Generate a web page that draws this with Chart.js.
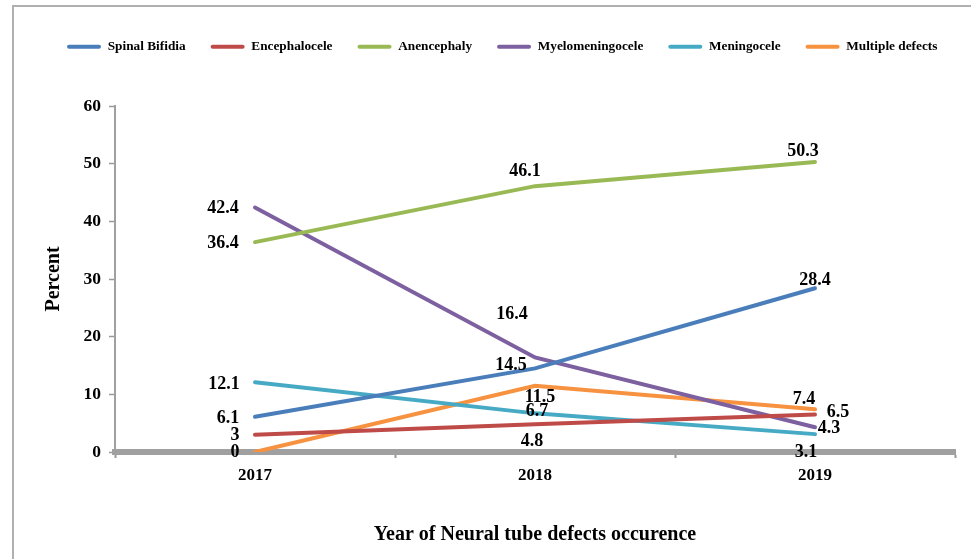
<!DOCTYPE html>
<html>
<head>
<meta charset="utf-8">
<script src="https://cdn.jsdelivr.net/npm/chart.js@4.4.1/dist/chart.umd.min.js"></script>
<style>
    html, body { margin: 0; padding: 0; background: #fff; }
    #wrap { position: relative; width: 971px; height: 559px; overflow: hidden; }
    #frame {
        position: absolute; left: 12px; top: 5px; right: -4px; bottom: -4px;
        border-top: 2px solid #b0b0b0; border-left: 2px solid #b0b0b0;
        pointer-events: none;
    }
    canvas { position: absolute; left: 0; top: 0; }
</style>
</head>
<body>
<div id="wrap">
    <canvas id="ntd-chart" width="971" height="559"></canvas>
    <div id="frame"></div>
</div>
<script>
"use strict";

const years = ["2017", "2018", "2019"];
const yTicks = [0, 10, 20, 30, 40, 50, 60];

const spinalBifidia = [6.1, 14.5, 28.4];
const encephalocele = [3, 4.8, 6.5];
const anencephaly = [36.4, 46.1, 50.3];
const myelomeningocele = [42.4, 16.4, 4.3];
const meningocele = [12.1, 6.7, 3.1];
const multipleDefects = [0, 11.5, 7.4];

const FONT = "'Liberation Serif', 'Times New Roman', serif";

// where each value label sits relative to its point, [dx, dy] per year
const labelOffsets = {
    "Spinal Bifidia": [[-27, 2], [-24, -3], [0, -8]],
    "Encephalocele": [[-20, 1], [-3, 17], [23, -2]],
    "Anencephaly": [[-32, 1], [-10, -15], [-12, -11]],
    "Myelomeningocele": [[-32, 1], [-23, -43], [14, 1]],
    "Meningocele": [[-31, 2], [2, -2], [-9, 18]],
    "Multiple defects": [[-20, 0], [5, 12], [-11, -10]]
};

function series(label, data, color) {
    return {
        label: label,
        data: data,
        borderColor: color,
        backgroundColor: color,
        borderWidth: 4,
        borderCapStyle: "round",
        pointRadius: 0,
        tension: 0,
        fill: false
    };
}

const valueLabels = {
    id: "valueLabels",
    afterDatasetsDraw(chart) {
        const ctx = chart.ctx;
        ctx.save();
        ctx.font = `bold 18px ${FONT}`;
        ctx.fillStyle = "#000";
        ctx.textAlign = "center";
        ctx.textBaseline = "middle";
        chart.data.datasets.forEach((ds, i) => {
            const meta = chart.getDatasetMeta(i);
            const offsets = labelOffsets[ds.label];
            meta.data.forEach((pt, j) => {
                const [dx, dy] = offsets[j];
                ctx.fillText(String(ds.data[j]), pt.x + dx, pt.y + dy);
            });
        });
        ctx.restore();
    }
};

// keep the legend on one row and leave a fixed gap under it
const legendSpace = {
    id: "legendSpace",
    beforeInit(chart) {
        const fit = chart.legend.fit;
        chart.legend.fit = function () {
            this.maxWidth = 1100;
            fit.call(this);
            this.height = 91;
        };
    },
    afterLayout(chart) {
        chart.legend.right = chart.width + 40;
    }
};

const ctx = document.querySelector("#ntd-chart").getContext("2d");
const configuration = {
    type: "line",
    data: {
        labels: years,
        datasets: [
            series("Spinal Bifidia", spinalBifidia, "#4a7ebb"),
            series("Encephalocele", encephalocele, "#be4b48"),
            series("Anencephaly", anencephaly, "#98b954"),
            series("Myelomeningocele", myelomeningocele, "#7d60a0"),
            series("Meningocele", meningocele, "#46aac5"),
            series("Multiple defects", multipleDefects, "#f69240")
        ]
    },
    options: {
        responsive: false,
        animation: false,
        devicePixelRatio: 1,
        layout: {
            padding: { left: 42, right: 16, top: 15, bottom: 4 }
        },
        plugins: {
            tooltip: { enabled: false },
            legend: {
                position: "top",
                align: "start",
                labels: {
                    boxWidth: 34,
                    boxHeight: 4,
                    padding: 25,
                    color: "#000",
                    font: { family: FONT, size: 13.3, weight: "bold" },
                    generateLabels(chart) {
                        const items = Chart.defaults.plugins.legend.labels.generateLabels(chart);
                        items.forEach(item => {
                            item.fillStyle = item.strokeStyle;
                            item.lineWidth = 0;
                            item.borderRadius = 2;
                        });
                        return items;
                    }
                }
            }
        },
        scales: {
            x: {
                offset: true,
                afterFit(scale) { scale.height = 103; },
                grid: {
                    offset: true,
                    drawOnChartArea: false,
                    tickLength: 6,
                    tickColor: "#999",
                    tickWidth: 2
                },
                border: { color: "#a0a0a0", width: 6 },
                ticks: {
                    color: "#000",
                    padding: 7,
                    font: { family: FONT, size: 17, weight: "bold" }
                },
                title: {
                    display: true,
                    text: "Year of Neural tube defects occurence",
                    color: "#000",
                    padding: { top: 0, bottom: 8 },
                    font: { family: FONT, size: 20, weight: "bold" }
                }
            },
            y: {
                min: yTicks[0],
                max: yTicks[yTicks.length - 1],
                afterFit(scale) { scale.width = 73; },
                afterBuildTicks(scale) { scale.ticks = yTicks.map(v => ({ value: v })); },
                grid: {
                    drawOnChartArea: false,
                    tickLength: 6,
                    tickColor: "#999",
                    tickWidth: 1.5
                },
                border: { color: "#a0a0a0", width: 2 },
                ticks: {
                    color: "#000",
                    padding: 8,
                    font: { family: FONT, size: 17.5, weight: "bold" }
                },
                title: {
                    display: true,
                    text: "Percent",
                    color: "#000",
                    padding: { top: 0, bottom: 0 },
                    font: { family: FONT, size: 20, weight: "bold" }
                }
            }
        }
    },
    plugins: [valueLabels, legendSpace]
};
new Chart(ctx, configuration); //NOSONAR
</script>
</body>
</html>
